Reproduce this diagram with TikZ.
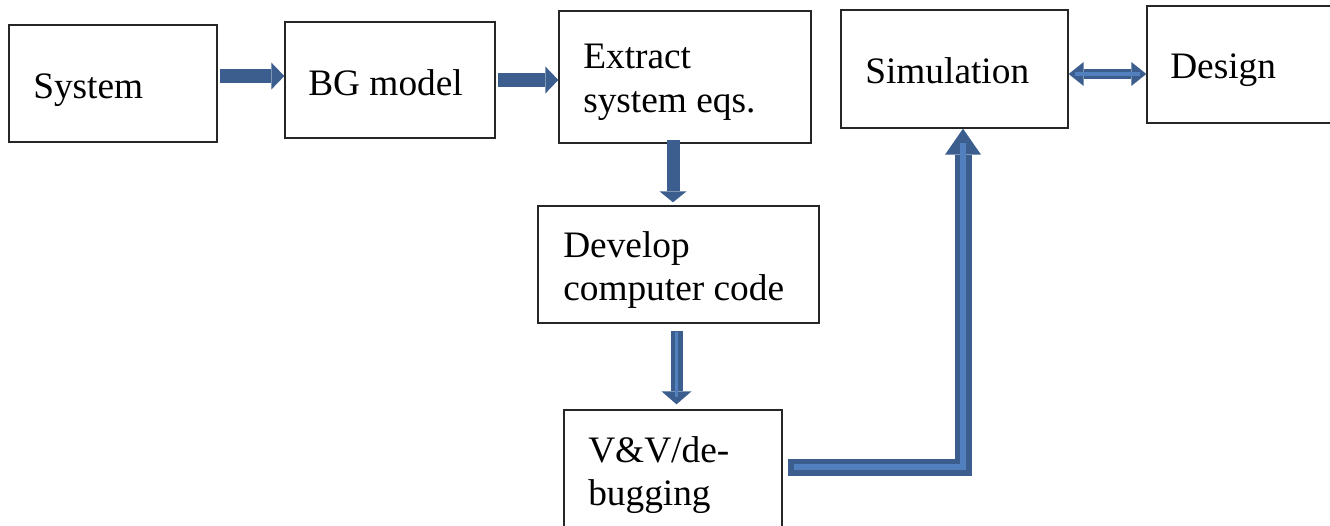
\documentclass[tikz,border=0pt]{standalone}
\usepackage{fontspec}
\setmainfont{Liberation Serif}
\usetikzlibrary{arrows.meta,calc}
\definecolor{dkb}{RGB}{59,94,142}
\definecolor{ltb}{RGB}{82,128,190}
\begin{document}
\begin{tikzpicture}[x=0.75pt,y=-0.75pt,
  box/.style={draw=black!85, line width=1pt, rectangle, inner sep=0pt, fill=white},
  txt/.style={anchor=base west, inner sep=0pt, font=\fontsize{28pt}{33pt}\selectfont},
  harrow/.style={draw=dkb, line width=10.5pt,
    -{Triangle[width=20.25pt,length=9.75pt,line width=0pt]}},
  varrowa/.style={draw=dkb, line width=9.75pt,
    -{Triangle[width=20.25pt,length=8.25pt,line width=0pt]}},
  varrowb/.style={draw=dkb, line width=9pt,
    -{Triangle[width=22.5pt,length=9.75pt,line width=0pt]}},
  darrow/.style={draw=dkb, line width=7.5pt,
    {Triangle[width=18pt,length=11.25pt,line width=0pt]}-{Triangle[width=18pt,length=11.25pt,line width=0pt]}},
  earrow/.style={draw=dkb, line width=12.75pt, line join=miter,
    -{Triangle[width=27pt,length=19.5pt,line width=0pt]}},
  inner/.style={draw=ltb, line join=miter}]
\useasboundingbox (0,0) rectangle (1330,525);
\clip (0,0) rectangle (1330,525);
% boxes
\node[box, minimum width=156pt, minimum height=87.75pt] (sys) at (113,83.5) {};
\node[box, minimum width=157.5pt, minimum height=87pt] (bg) at (390,80) {};
\node[box, minimum width=189pt, minimum height=99pt] (ext) at (685,77) {};
\node[box, minimum width=170.25pt, minimum height=88.5pt] (sim) at (954.5,69) {};
\node[box, minimum width=144.75pt, minimum height=87.75pt] (des) at (1243.5,64.5) {};
\node[box, minimum width=210.75pt, minimum height=87.75pt] (dev) at (678.5,264.5) {};
\node[box, minimum width=163.5pt, minimum height=93pt] (vv) at (673,472) {};
% texts
\node[txt] (tsys) at (33,98) {System};
\node[txt] (tbg) at (308,95) {BG model};
\node[txt] (text1) at (583,68) {Extract};
\node[txt] (text2) at (583,112) {system eqs.};
\node[txt] (tsim) at (865,83) {Simulation};
\node[txt] (tdes) at (1170,78) {Design};
\node[txt] (tdev1) at (563,257) {Develop};
\node[txt] (tdev2) at (563,300) {computer code};
\node[txt] (tvv1) at (588,462) {V\&V/de-};
\node[txt] (tvv2) at (588,505) {bugging};
% arrows
\draw[harrow, shorten <=1.5pt] ([yshift=5.6pt]sys.east) -- ([yshift=5.6pt]sys.east -| bg.west);
\draw[harrow, shorten <=1.5pt] (bg.east) -- (bg.east -| ext.west);
\draw[varrowa, shorten <=-3pt, shorten >=2.25pt] ([xshift=-9pt]ext.south) -- ([xshift=-9pt]ext.south |- dev.north);
\draw[varrowb, shorten <=5.25pt, shorten >=3.75pt] ([xshift=-1.5pt]dev.south) -- ([xshift=-1.5pt]dev.south |- vv.north);
\draw[inner, line width=2.5pt, shorten <=6pt, shorten >=9pt] ([xshift=-1.5pt]dev.south) -- ([xshift=-1.5pt]dev.south |- vv.north);
\draw[darrow] ([yshift=-3.75pt]sim.east) -- ([yshift=-3.75pt]sim.east -| des.west);
\draw[inner, line width=2.5pt, shorten <=5pt, shorten >=5pt] ([yshift=-3.75pt]sim.east) -- ([yshift=-3.75pt]sim.east -| des.west);
\draw[earrow, shorten <=3.75pt] ([yshift=3.75pt]vv.east) -| ([xshift=6.375pt]sim.south);
\draw[inner, line width=4.5pt, shorten <=8.25pt, shorten >=11pt] ([yshift=3.75pt]vv.east) -| ([xshift=6.375pt]sim.south);
\end{tikzpicture}
\end{document}
